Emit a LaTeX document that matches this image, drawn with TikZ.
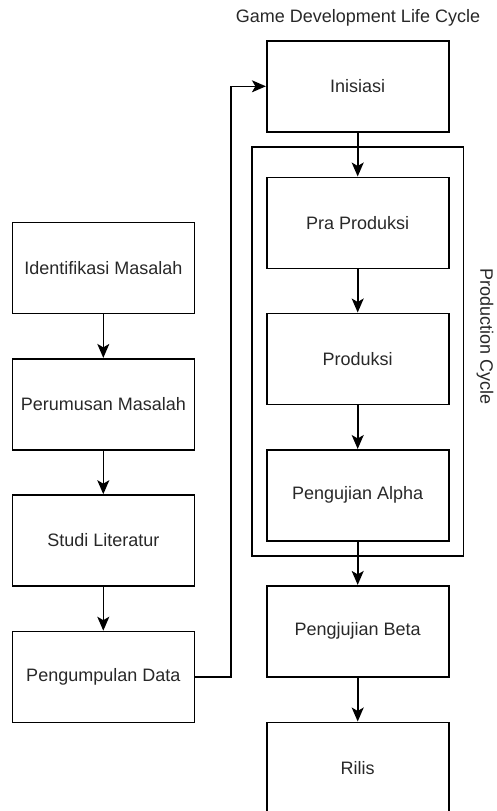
\documentclass[tikz,border=0pt]{standalone}
\usepackage{fontspec}
\setmainfont{Liberation Sans}
\usetikzlibrary{arrows.meta}
\definecolor{txt}{RGB}{40,40,40}
\begin{document}
\begin{tikzpicture}[x=1pt,y=-1pt,
  every node/.style={font=\fontsize{18}{21.6}\selectfont, text=txt},
  box/.style={draw=black, line width=1.6pt, minimum width=182pt, minimum height=91pt, inner sep=0pt},
  cont/.style={draw=black, line width=1.6pt},
  arr/.style={draw=black, line width=1.6pt, -{Stealth[length=14pt,width=12pt,inset=3.5pt]}},
  lbl/.style={inner sep=0pt}]
\useasboundingbox (0,0) rectangle (496,811);
% container
\draw[cont] (251.7,146.7) rectangle (463.3,555.7);
% left column
\node[box] (id) at (103.3,267.8) {Identifikasi Masalah};
\node[box] (pm) at (103.3,404.2) {Perumusan Masalah};
\node[box] (sl) at (103.3,540.5) {Studi Literatur};
\node[box] (pd) at (103.3,677) {Pengumpulan Data};
% right column
\node[box] (in) at (357.7,86.3) {Inisiasi};
\node[box] (pp) at (357.7,222.8) {Pra Produksi};
\node[box] (pr) at (357.7,358.8) {Produksi};
\node[box] (pa) at (357.7,495.3) {Pengujian Alpha};
\node[box] (pb) at (357.7,631.2) {Pengjujian Beta};
\node[box] (ri) at (357.7,767.8) {Rilis};
% labels
\node[lbl] (title) at (358,18) {Game Development Life Cycle};
\node[lbl, rotate=-90] (pc) at (485,336.5) {Production Cycle};
% connectors
\draw[arr] (id) -- (pm);
\draw[arr] (pm) -- (sl);
\draw[arr] (sl) -- (pd);
\draw[arr] (pd.east) -- (231,677) -- (231,86.3) -- (in.west);
\draw[arr] (in) -- (pp);
\draw[arr] (pp) -- (pr);
\draw[arr] (pr) -- (pa);
\draw[arr] (pa) -- (pb);
\draw[arr] (pb) -- (ri);
\end{tikzpicture}
\end{document}
